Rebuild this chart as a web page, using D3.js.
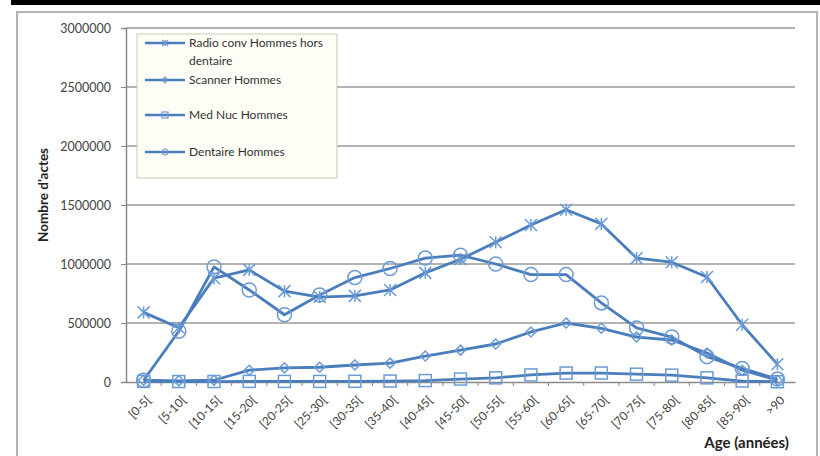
<!DOCTYPE html>
<html>
<head>
<meta charset="utf-8">
<script src="https://cdn.jsdelivr.net/npm/d3@7"></script>
<style>
  html, body { margin: 0; padding: 0; background: #fff; }
  svg { display: block; font-family: Lato, "Open Sans", sans-serif; }
</style>
</head>
<body>
<svg id="chart" width="820" height="456"></svg>
<script>
// Age groups (x axis)
const categories = ["[0-5[", "[5-10[", "[10-15[", "[15-20[", "[20-25[", "[25-30[", "[30-35[",
  "[35-40[", "[40-45[", "[45-50[", "[50-55[", "[55-60[", "[60-65[", "[65-70[", "[70-75[",
  "[75-80[", "[80-85[", "[85-90[", ">90"];

// Number of procedures per age group, men
const radioConv = [590000, 460000, 880000, 950000, 770000, 720000, 730000, 780000, 925000, 1040000,
  1185000, 1330000, 1460000, 1340000, 1050000, 1015000, 890000, 485000, 150000];
const scanner = [15000, 10000, 15000, 100000, 120000, 125000, 144000, 160000, 220000, 270000,
  322000, 424000, 500000, 455000, 381000, 356000, 246000, 100000, 15000];
const medNuc = [5000, 4000, 4000, 5000, 5000, 5000, 6000, 8000, 12000, 25000,
  35000, 60000, 76000, 76000, 66000, 58000, 35000, 8000, 2000];
const dentaire = [15000, 430000, 975000, 780000, 570000, 737000, 885000, 962000, 1050000, 1075000,
  1000000, 910000, 910000, 670000, 458000, 381000, 215000, 115000, 25000];

const seriesNames = ["Radio conv Hommes hors dentaire", "Scanner Hommes", "Med Nuc Hommes", "Dentaire Hommes"];
const yTicks = [0, 500000, 1000000, 1500000, 2000000, 2500000, 3000000];

const series = [
  { name: seriesNames[0], values: radioConv, marker: "star" },
  { name: seriesNames[1], values: scanner, marker: "diamond" },
  { name: seriesNames[2], values: medNuc, marker: "square" },
  { name: seriesNames[3], values: dentaire, marker: "circle" }
];

const svg = d3.select("#chart");
const plotLeft = 126, plotRight = 795, plotTop = 28, plotBottom = 382;
const lineColor = "#4a7dbb", markColor = "#6b9bd6";

// Outer frame
svg.append("rect").attr("x", 11).attr("y", 0).attr("width", 809).attr("height", 5).attr("fill", "#000");
svg.append("rect").attr("x", 17).attr("y", 12).attr("width", 800).attr("height", 460)
  .attr("fill", "none").attr("stroke", "#b4b4b4").attr("stroke-width", 2);

const x = d3.scaleBand().domain(categories).range([plotLeft, plotRight]);
const y = d3.scaleLinear().domain([0, 3000000]).range([plotBottom, plotTop]);
const cx = c => x(c) + x.bandwidth() / 2;

// Horizontal gridlines
svg.append("g").selectAll("line").data(yTicks.filter(d => d > 0)).join("line")
  .attr("x1", plotLeft).attr("x2", plotRight).attr("y1", d => y(d)).attr("y2", d => y(d))
  .attr("stroke", "#9a9a9a").attr("stroke-width", 1.5);

// Y axis
const yAxis = svg.append("g").attr("transform", `translate(${plotLeft},0)`)
  .call(d3.axisLeft(y).tickValues(yTicks).tickFormat(d3.format("d")).tickSize(5).tickPadding(10));
yAxis.select(".domain").attr("stroke", "#8a8a8a").attr("stroke-width", 1.5);
yAxis.selectAll(".tick line").attr("stroke", "#8a8a8a");
yAxis.selectAll("text").attr("fill", "#444").attr("font-size", 12.5).attr("font-family", "Lato, sans-serif");

// X axis
const xAxis = svg.append("g").attr("transform", `translate(0,${plotBottom})`)
  .call(d3.axisBottom(x).tickSize(0).tickPadding(0));
xAxis.select(".domain").attr("stroke", "#8a8a8a").attr("stroke-width", 1.5);
xAxis.selectAll(".tick text")
  .attr("text-anchor", "end").attr("fill", "#444").attr("font-size", 12)
  .attr("font-family", "Lato, sans-serif")
  .attr("transform", "translate(5,16) rotate(-45)").attr("dy", "0.35em");
// category boundary ticks
svg.append("g").selectAll("line").data(categories.slice(1)).join("line")
  .attr("x1", d => x(d)).attr("x2", d => x(d)).attr("y1", plotBottom).attr("y2", plotBottom + 4)
  .attr("stroke", "#8a8a8a");

// Axis titles
svg.append("text").attr("transform", "translate(48,195) rotate(-90)")
  .attr("text-anchor", "middle").attr("font-size", 13.5).attr("font-weight", "bold")
  .attr("fill", "#222").text("Nombre d'actes");
svg.append("text").attr("x", 789).attr("y", 448).attr("text-anchor", "end")
  .attr("font-size", 15).attr("font-weight", "bold").attr("fill", "#222").text("Age (années)");

// Marker drawing
function drawMarker(g, type, size) {
  const s = size;
  if (type === "circle") {
    g.append("circle").attr("r", s);
  } else if (type === "square") {
    g.append("rect").attr("x", -s).attr("y", -s).attr("width", 2 * s).attr("height", 2 * s);
  } else if (type === "diamond") {
    g.append("path").attr("d", `M0,${-s}L${s},0L0,${s}L${-s},0Z`);
  } else if (type === "star") {
    g.append("path").attr("d", `M${-s},${-s}L${s},${s}M${-s},${s}L${s},${-s}M0,${-s}L0,${s}`);
  }
}

const line = d3.line().x((d, i) => cx(categories[i])).y(d => y(d));
const plot = svg.append("g");
series.forEach(s => {
  plot.append("path").datum(s.values).attr("d", line)
    .attr("fill", "none").attr("stroke", lineColor).attr("stroke-width", 2.8)
    .attr("stroke-linejoin", "round");
});
series.forEach(s => {
  s.values.forEach((v, i) => {
    const g = plot.append("g").attr("transform", `translate(${cx(categories[i])},${y(v)})`)
      .attr("fill", "none").attr("stroke", markColor).attr("stroke-width", 1.5);
    drawMarker(g, s.marker, s.marker === "circle" ? 7 : (s.marker === "diamond" ? 5 : 6));
  });
});

// Legend
const legend = svg.append("g");
legend.append("rect").attr("x", 137).attr("y", 34).attr("width", 200).attr("height", 144)
  .attr("fill", "#fefef6").attr("stroke", "#c9c9b4").attr("stroke-width", 1);
const legendRows = [
  { lines: ["Radio conv Hommes hors", "dentaire"], y: 43 },
  { lines: ["Scanner Hommes"], y: 80 },
  { lines: ["Med Nuc Hommes"], y: 115 },
  { lines: ["Dentaire Hommes"], y: 152 }
];
legendRows.forEach((r, i) => {
  legend.append("line").attr("x1", 145).attr("x2", 185).attr("y1", r.y).attr("y2", r.y)
    .attr("stroke", lineColor).attr("stroke-width", 2.5);
  const g = legend.append("g").attr("transform", `translate(165,${r.y})`)
    .attr("fill", "none").attr("stroke", markColor).attr("stroke-width", 1.2);
  drawMarker(g, series[i].marker, 3);
  r.lines.forEach((t, k) => {
    legend.append("text").attr("x", 189).attr("y", r.y + k * 18).attr("dy", "0.35em")
      .attr("font-size", 12).attr("fill", "#333").text(t);
  });
});
</script>
</body>
</html>
